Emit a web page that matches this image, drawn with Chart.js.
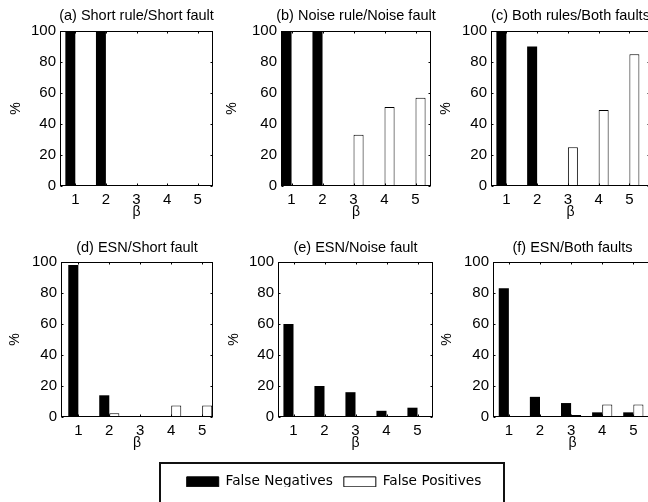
<!DOCTYPE html>
<html>
<head>
<meta charset="utf-8">
<script src="https://cdn.jsdelivr.net/npm/chart.js@4/dist/chart.umd.min.js"></script>
<style>
html,body{margin:0;padding:0;background:#fff;}
body{width:648px;height:502px;overflow:hidden;position:relative;}
canvas{display:block;}
#legendBox{position:absolute;left:159px;top:462px;width:346px;height:50px;border:2px solid #111;box-sizing:border-box;background:#fff;}
</style>
</head>
<body>
<div id="legendBox"><canvas id="legendCanvas"></canvas></div>
<script>
// ---------- data ----------
const betaValues = [1, 2, 3, 4, 5];
const yTickValues = [0, 20, 40, 60, 80, 100];
const seriesNames = ['False Negatives', 'False Positives'];
const panelTitles = [
  '(a) Short rule/Short fault',
  '(b) Noise rule/Noise fault',
  '(c) Both rules/Both faults',
  '(d) ESN/Short fault',
  '(e) ESN/Noise fault',
  '(f) ESN/Both faults'
];
const falseNegA = [100, 100, 0, 0, 0];
const falsePosA = [0, 0, 0, 0, 0];
const falseNegB = [100, 100, 0, 0, 0];
const falsePosB = [0, 0, 33, 51, 57];
const falseNegC = [100, 90, 0, 0, 0];
const falsePosC = [0, 0, 25, 49, 85];
const falseNegD = [98, 14, 0, 0, 0];
const falsePosD = [0, 2.5, 0, 7.5, 7.5];
const falseNegE = [60, 20, 16, 4, 6];
const falsePosE = [0, 0, 0, 0, 0];
const falseNegF = [83, 13, 9, 3, 3];
const falsePosF = [0, 0, 1.3, 8, 8];

const panelSeries = [
  [falseNegA, falsePosA], [falseNegB, falsePosB], [falseNegC, falsePosC],
  [falseNegD, falsePosD], [falseNegE, falsePosE], [falseNegF, falsePosF]
];

// ---------- layout (plot-area rectangles in page pixels) ----------
const layouts = [
  {l: 60,  t: 31,  r: 213, b: 186, xmin: 0.5,  xmax: 5.5,  yGap: 44, titleGap: 15.5},
  {l: 281, t: 31,  r: 431, b: 186, xmin: 0.66, xmax: 5.5,  yGap: 49, titleGap: 15.5},
  {l: 491, t: 31,  r: 650, b: 186, xmin: 0.5,  xmax: 5.67, yGap: 45, titleGap: 15.5},
  {l: 61,  t: 262, r: 213, b: 417, xmin: 0.44, xmax: 5.35, yGap: 46, titleGap: 14},
  {l: 278, t: 262, r: 433, b: 417, xmin: 0.5,  xmax: 5.5,  yGap: 44, titleGap: 14},
  {l: 493, t: 262, r: 652, b: 417, xmin: 0.49, xmax: 5.6,  yGap: 46, titleGap: 14}
];
const Y_W = 60, T_PAD = 31, X_H = 40, R_PAD = 10;

Chart.defaults.font.family = "'Liberation Sans', Arial, sans-serif";
Chart.defaults.font.size = 15;
Chart.defaults.color = '#000';

// MATLAB-like axes box with inward ticks and title
const boxPlugin = {
  id: 'matlabBox',
  afterDatasetsDraw(chart, args, opts) {
    const {ctx, chartArea: a, scales: {x, y}} = chart;
    ctx.save();
    ctx.strokeStyle = '#000';
    ctx.lineWidth = 1;
    const L = Math.round(a.left) + 0.5, R = Math.round(a.right) - 0.5;
    const T = Math.round(a.top) + 0.5, B = Math.round(a.bottom) - 0.5;
    ctx.strokeRect(L, T, R - L, B - T);
    const tl = 2;
    ctx.beginPath();
    yTickValues.forEach(v => {
      const py = Math.round(y.getPixelForValue(v)) + 0.5;
      ctx.moveTo(L, py); ctx.lineTo(L + tl, py);
      ctx.moveTo(R, py); ctx.lineTo(R - tl, py);
    });
    betaValues.forEach(v => {
      const px = Math.round(x.getPixelForValue(v)) + 0.5;
      ctx.moveTo(px, T); ctx.lineTo(px, T + tl);
      ctx.moveTo(px, B); ctx.lineTo(px, B - tl);
    });
    ctx.stroke();
    ctx.fillStyle = '#000';
    ctx.font = "14.5px 'Liberation Sans', Arial, sans-serif";
    ctx.textAlign = 'center';
    ctx.textBaseline = 'middle';
    ctx.fillText(opts.text, (a.left + a.right) / 2, a.top - opts.gap);
    ctx.restore();
  }
};

layouts.forEach((L, i) => {
  const W = Y_W + (L.r - L.l) + R_PAD;
  const H = T_PAD + (L.b - L.t) + X_H;
  const cv = document.createElement('canvas');
  cv.width = W; cv.height = H;
  cv.style.cssText = `position:absolute;left:${L.l - Y_W}px;top:${L.t - T_PAD}px;width:${W}px;height:${H}px;`;
  document.body.appendChild(cv);
  const [fn, fp] = panelSeries[i];
  new Chart(cv, {
    type: 'bar',
    data: {
      datasets: [
        {label: seriesNames[0], data: betaValues.map((b, k) => ({x: b, y: fn[k]})),
         backgroundColor: '#000', borderColor: '#000', borderWidth: 0, inflateAmount: 0},
        {label: seriesNames[1], data: betaValues.map((b, k) => ({x: b, y: fp[k]})),
         backgroundColor: '#fff', borderColor: '#000', borderWidth: 1, inflateAmount: 0}
      ]
    },
    options: {
      responsive: false,
      animation: false,
      events: [],
      layout: {padding: {top: T_PAD, left: 0, right: R_PAD, bottom: 0}},
      datasets: {bar: {categoryPercentage: 0.65, barPercentage: 1}},
      scales: {
        x: {
          type: 'linear', offset: false, min: L.xmin, max: L.xmax,
          grid: {display: false, drawTicks: false}, border: {display: false},
          afterBuildTicks: s => { s.ticks = betaValues.map(v => ({value: v})); },
          afterFit: s => { s.height = X_H; },
          ticks: {padding: 4.5, callback: v => String(v)},
          title: {display: true, text: 'β', font: {size: 14}, padding: {top: 0, bottom: 5.9}}
        },
        y: {
          min: 0, max: 100,
          grid: {display: false, drawTicks: false}, border: {display: false},
          afterBuildTicks: s => { s.ticks = yTickValues.map(v => ({value: v})); },
          afterFit: s => { s.width = Y_W; },
          ticks: {padding: 4},
          title: {display: true, text: '%', font: {size: 14}, padding: {top: Y_W - L.yGap - 8.4, bottom: 0}}
        }
      },
      plugins: {
        legend: {display: false},
        tooltip: {enabled: false},
        matlabBox: {text: panelTitles[i], gap: L.titleGap}
      }
    },
    plugins: [boxPlugin]
  });
});

// ---------- legend ----------
const lc = document.getElementById('legendCanvas');
lc.width = 342; lc.height = 46;
lc.style.width = '342px'; lc.style.height = '46px';
new Chart(lc, {
  type: 'bar',
  data: {
    labels: [],
    datasets: [
      {label: seriesNames[0], data: [], backgroundColor: '#000', borderColor: '#000', borderWidth: 1},
      {label: seriesNames[1], data: [], backgroundColor: '#fff', borderColor: '#000', borderWidth: 1}
    ]
  },
  options: {
    responsive: false, animation: false, events: [],
    layout: {padding: {top: 0, left: 4, right: 0, bottom: 0}},
    scales: {x: {display: false}, y: {display: false}},
    plugins: {
      tooltip: {enabled: false},
      legend: {
        display: true, position: 'top',
        labels: {boxWidth: 32, boxHeight: 10, padding: 11, color: '#000',
                 font: {family: "'DejaVu Sans', Verdana, sans-serif", size: 13.7}}
      }
    }
  }
});
</script>
</body>
</html>
